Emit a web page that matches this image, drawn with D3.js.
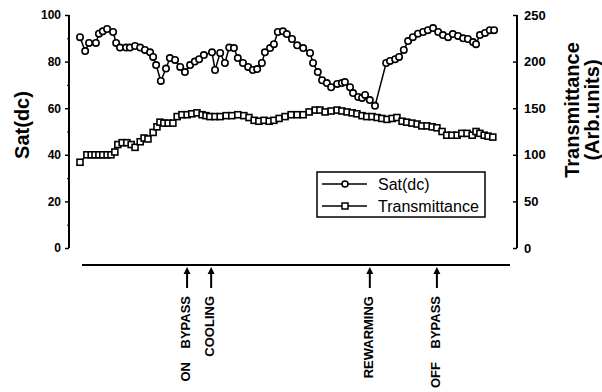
<!DOCTYPE html>
<html>
<head>
<meta charset="utf-8">
<script src="https://cdn.jsdelivr.net/npm/d3@7"></script>
<style>
  body { margin: 0; background: #fff; }
  svg { display: block; font-family: "Liberation Sans", Arial, Helvetica, sans-serif; }
</style>
</head>
<body>
<div id="chart"></div>
<script>
// time in arbitrary units (bypass run)
const satTime = [0, 1.2, 2.1, 3.7, 4.4, 5.3, 6.3, 7.7, 8.4, 9.3, 10.7, 11.6, 12.8, 14.0, 15.1, 16.3, 17.0, 17.7, 18.8, 20.0,
  20.9, 22.1, 23.3, 24.4, 25.6, 26.7, 27.7, 28.8, 30.7, 31.4, 32.6, 33.7, 34.7, 35.8, 36.7, 37.9, 39.1, 40.2, 41.2, 42.3,
  43.0, 44.2, 45.1, 46.0, 47.2, 48.1, 49.3, 50.5, 51.9, 53.5, 54.2, 55.3, 56.3, 57.4, 58.4, 59.8, 60.9, 61.6, 62.8, 63.5,
  64.7, 65.6, 66.3, 67.4, 68.6, 71.2, 72.1, 73.3, 74.2, 75.3, 76.3, 77.4, 78.6, 79.8, 80.9, 82.1, 83.3, 84.4, 85.6, 86.7,
  87.9, 89.1, 90.2, 91.4, 92.1, 93.0, 94.2, 95.3, 96.3];
const satValues = [90.5, 84.5, 88, 88, 92, 93, 94, 92.7, 88, 86, 86, 86, 86.7, 86, 85, 84, 82, 78.5, 71.7, 77,
  81.5, 80.7, 77.7, 75.5, 78.5, 80, 81, 82.8, 84, 76.4, 83.7, 79.4, 86, 85.8, 81.5, 79.4, 77.7, 76.4, 76.8, 79.4,
  84, 85.8, 87.5, 92.7, 93, 91.8, 89.7, 87, 85.8, 83.7, 79.4, 75.5, 72, 70.8, 69, 70.4, 70.8, 71.2, 69, 66.5,
  64.8, 64.4, 65.7, 63.5, 61, 79.4, 80.3, 81, 82, 85, 88.8, 90.5, 92, 92.7, 93.5, 94.4, 92.7, 91.4, 90.5, 91.8,
  91, 90, 89.7, 88.4, 87.5, 91.4, 92.3, 93.5, 93.5];

const trTime = [0, 1.6, 2.6, 3.5, 4.4, 5.3, 6.3, 7.2, 8.1, 8.8, 9.8, 10.9, 11.9, 12.8, 14.0, 14.9, 15.8, 17.0, 17.9, 18.6,
  19.5, 20.5, 21.6, 22.6, 23.7, 24.9, 26.0, 27.2, 28.4, 29.3, 30.2, 31.4, 32.6, 34.0, 35.3, 36.7, 38.1, 39.3, 40.5, 41.6,
  42.8, 44.0, 45.1, 46.3, 47.7, 49.1, 50.5, 51.9, 53.3, 54.7, 55.8, 57.0, 58.4, 59.8, 60.9, 62.1, 63.3, 64.4, 65.6, 66.7,
  67.9, 69.1, 70.2, 71.4, 72.6, 73.7, 74.9, 76.0, 77.2, 78.4, 79.5, 80.7, 81.9, 83.0, 84.2, 85.3, 86.5, 87.7, 88.8, 90.0,
  91.2, 92.1, 93.0, 94.0, 94.9, 96.0];
const trValues = [92, 100, 100, 100, 100, 100, 100, 100, 103, 111, 113, 113, 111, 108, 114, 118, 117, 124, 130, 135,
  134, 134, 134, 141, 143, 143, 144, 145, 143, 142, 141, 141, 141, 142, 142, 143, 142, 140, 137, 136,
  137, 136, 137, 139, 141, 143, 143, 143, 146, 148, 148, 146, 147, 148, 147, 146, 145, 144, 142, 141,
  141, 140, 139, 138, 139, 140, 136, 135, 134, 133, 131, 131, 130, 129, 125, 121, 121, 121, 123, 123,
  121, 125, 123, 121, 120, 119];

const eventNames = ["ON BYPASS", "COOLING", "REWARMING", "OFF BYPASS"];
const eventTimes = [24.9, 30.5, 67.4, 83.0];

const leftTicks = [0, 20, 40, 60, 80, 100];
const leftMinor = [10, 30, 50, 70, 90];
const rightTicks = [0, 50, 100, 150, 200, 250];
const seriesNames = ["Sat(dc)", "Transmittance"];

const width = 602, height = 392;

const svg = d3.select("#chart").append("svg")
  .attr("width", width)
  .attr("height", height);

const x = d3.scaleLinear().domain([0, 100]).range([80, 510]);
const yL = d3.scaleLinear().domain([0, 100]).range([248, 15]);
const yR = d3.scaleLinear().domain([0, 250]).range([248, 15]);

// left axis
const axL = svg.append("g")
  .attr("transform", "translate(69,0)")
  .call(d3.axisLeft(yL).tickValues(leftTicks).tickSize(4).tickPadding(4));
svg.append("g")
  .attr("transform", "translate(69,0)")
  .call(d3.axisLeft(yL).tickValues(leftMinor).tickSize(2).tickFormat(""))
  .select(".domain").remove();

// right axis (ticks point inward)
const axR = svg.append("g")
  .attr("transform", "translate(517,0)")
  .call(d3.axisRight(yR).tickValues(rightTicks).tickSize(-4).tickPadding(7));

[axL, axR].forEach(g => {
  g.select(".domain").attr("stroke-width", 2);
  g.selectAll(".tick line").attr("stroke-width", 1.5);
  g.selectAll("text").attr("font-weight", "bold").attr("fill", "#000");
});
axL.select(".domain").attr("d", "M0," + yL(0) + "V" + yL(100));
axR.select(".domain").attr("d", "M0," + yR(0) + "V" + yR(250));
axL.selectAll("text").attr("font-size", 12);
axR.selectAll("text").attr("font-size", 13);
svg.selectAll(".tick line").attr("stroke", "#000");

// axis titles
svg.append("text")
  .attr("transform", "translate(29,125) rotate(-90)")
  .attr("text-anchor", "middle")
  .attr("font-size", 20).attr("font-weight", "bold")
  .text("Sat(dc)");
svg.append("text")
  .attr("transform", "translate(579,110) rotate(-90)")
  .attr("text-anchor", "middle")
  .attr("font-size", 20).attr("font-weight", "bold")
  .text("Transmittance");
svg.append("text")
  .attr("transform", "translate(599,110) rotate(-90)")
  .attr("text-anchor", "middle")
  .attr("font-size", 20).attr("font-weight", "bold")
  .text("(Arb.units)");

// lines
const satData = satTime.map((t, i) => ({ t: t, v: satValues[i] }));
const trData = trTime.map((t, i) => ({ t: t, v: trValues[i] }));

svg.append("path")
  .datum(satData)
  .attr("fill", "none").attr("stroke", "#000").attr("stroke-width", 1.5)
  .attr("d", d3.line().x(d => x(d.t)).y(d => yL(d.v)));
svg.append("path")
  .datum(trData)
  .attr("fill", "none").attr("stroke", "#000").attr("stroke-width", 1.5)
  .attr("d", d3.line().x(d => x(d.t)).y(d => yR(d.v)));

svg.selectAll("circle.sat")
  .data(satData)
  .enter().append("circle")
  .attr("class", "sat")
  .attr("cx", d => x(d.t)).attr("cy", d => yL(d.v))
  .attr("r", 3.2)
  .attr("fill", "#fff").attr("stroke", "#000").attr("stroke-width", 1.6);

svg.selectAll("rect.tr")
  .data(trData)
  .enter().append("rect")
  .attr("class", "tr")
  .attr("x", d => x(d.t) - 3).attr("y", d => yR(d.v) - 3)
  .attr("width", 6).attr("height", 6)
  .attr("fill", "#fff").attr("stroke", "#000").attr("stroke-width", 1.6);

// legend
const lg = svg.append("g").attr("transform", "translate(317,172)");
lg.append("rect")
  .attr("width", 168).attr("height", 45)
  .attr("fill", "#fff").attr("stroke", "#000").attr("stroke-width", 1.5);
seriesNames.forEach((name, i) => {
  const yy = 12 + i * 22;
  lg.append("line")
    .attr("x1", 5).attr("x2", 50).attr("y1", yy).attr("y2", yy)
    .attr("stroke", "#000").attr("stroke-width", 1.5);
  if (i === 0) {
    lg.append("circle").attr("cx", 28).attr("cy", yy).attr("r", 3)
      .attr("fill", "#fff").attr("stroke", "#000").attr("stroke-width", 1.5);
  } else {
    lg.append("rect").attr("x", 25).attr("y", yy - 3).attr("width", 6).attr("height", 6)
      .attr("fill", "#fff").attr("stroke", "#000").attr("stroke-width", 1.5);
  }
  lg.append("text")
    .attr("x", 61).attr("y", yy + 5.5)
    .attr("font-size", 16)
    .text(name);
});

// time line and event markers
svg.append("line")
  .attr("x1", x.range()[0] + 2).attr("x2", x.range()[1])
  .attr("y1", 265).attr("y2", 265)
  .attr("stroke", "#000").attr("stroke-width", 2);

const ev = svg.selectAll("g.event")
  .data(eventNames.map((n, i) => ({ name: n, t: eventTimes[i] })))
  .enter().append("g")
  .attr("class", "event")
  .attr("transform", d => "translate(" + x(d.t) + ",0)");
ev.append("path")
  .attr("d", "M0,267L-3.5,274L3.5,274Z")
  .attr("fill", "#000");
ev.append("line")
  .attr("x1", 0).attr("x2", 0).attr("y1", 273).attr("y2", 288)
  .attr("stroke", "#000").attr("stroke-width", 2);
ev.append("text")
  .attr("transform", "translate(3,296) rotate(-90)")
  .attr("text-anchor", "end")
  .attr("font-size", 13).attr("font-weight", "bold")
  .attr("word-spacing", 10)
  .text(d => d.name);
</script>
</body>
</html>
